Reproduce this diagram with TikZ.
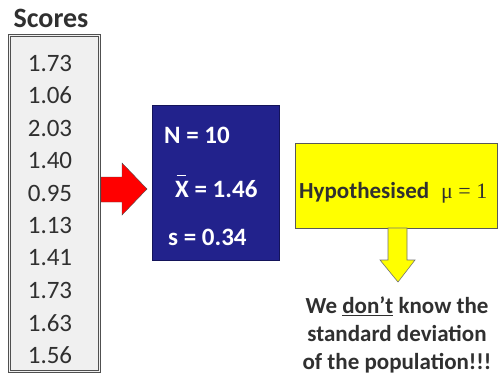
\documentclass[tikz,border=0pt]{standalone}
\usepackage{fontspec}
\setmainfont{Carlito}
\newfontfamily\mufont{Liberation Serif}
\definecolor{navybox}{HTML}{22228C}
\definecolor{navyline}{HTML}{14145A}
\definecolor{scorefill}{HTML}{F0F0F0}
\definecolor{scoreline}{HTML}{505050}
\definecolor{txt}{HTML}{303030}
\definecolor{arrowred}{HTML}{FF0000}
\definecolor{boxyellow}{HTML}{FFFF00}
\tikzset{
  num/.style={font=\fontsize{25}{25}\selectfont, text=txt, inner sep=0pt},
  stat/.style={font=\bfseries\fontsize{25}{25}\selectfont, text=white, inner sep=0pt, anchor=west},
}
\begin{document}
\begin{tikzpicture}[x=1pt,y=-1pt]
\useasboundingbox[fill=white] (0,0) rectangle (500,378);
% title
\node[font=\bfseries\fontsize{28}{28}\selectfont, text=txt, inner sep=0pt] (title) at (51,18) {Scores};
% scores box
\node[fill=scorefill, draw=scoreline, line width=0.8pt, double=scorefill, double distance=1.2pt,
      minimum width=90pt, minimum height=336pt, inner sep=0pt] (scores) at (54.5,203.5) {};
\node[num] (n1) at (50,63) {1.73};
\node[num] (n2) at (50,95.5) {1.06};
\node[num] (n3) at (50,128) {2.03};
\node[num] (n4) at (50,160.5) {1.40};
\node[num] (n5) at (50,193) {0.95};
\node[num] (n6) at (50,225.5) {1.13};
\node[num] (n7) at (50,258) {1.41};
\node[num] (n8) at (50,290.5) {1.73};
\node[num] (n9) at (50,323) {1.63};
\node[num] (n10) at (50,355.5) {1.56};
% blue stats box
\node[fill=navybox, draw=navyline, line width=1pt, minimum width=127pt, minimum height=155pt, inner sep=0pt] (stats) at (216,182.5) {};
\node[stat] (sN) at (164,135) {N = 10};
\node[stat] (sX) at (175,189) {X = 1.46};
\draw[white, line width=1.2pt] ([xshift=1.5pt,yshift=5pt]sX.north west) -- ([xshift=11pt,yshift=5pt]sX.north west);
\node[stat] (sS) at (168,237) {s = 0.34};
% red arrow
\fill[arrowred, draw=black!70, line width=0.4pt]
  (101,177) -- (122,177) -- (122,163) -- (147,189) -- (122,215) -- (122,202) -- (101,202) -- cycle;
% yellow box
\node[fill=boxyellow, draw=black!65, line width=1pt, minimum width=202pt, minimum height=85pt, inner sep=0pt] (hyp) at (396,185.5) {};
\node[anchor=west, inner sep=0pt, text=txt] (hyptext) at (299,193)
  {\fontsize{23}{23}\selectfont\bfseries Hypothesised\hspace{12pt}{\mufont\mdseries\fontsize{22}{22}\selectfont μ = 1}};
% yellow arrow
\fill[boxyellow, draw=black!55, line width=0.6pt]
  (388,228) -- (407,228) -- (407,260) -- (415,260) -- (398,282) -- (380,260) -- (388,260) -- cycle;
% bottom text
\node[align=center, text=txt, font=\bfseries\fontsize{23}{28}\selectfont, inner sep=0pt] (note) at (397,335)
  {We \underline{don’t} know the\\standard deviation\\of the population!!!};
\end{tikzpicture}
\end{document}
